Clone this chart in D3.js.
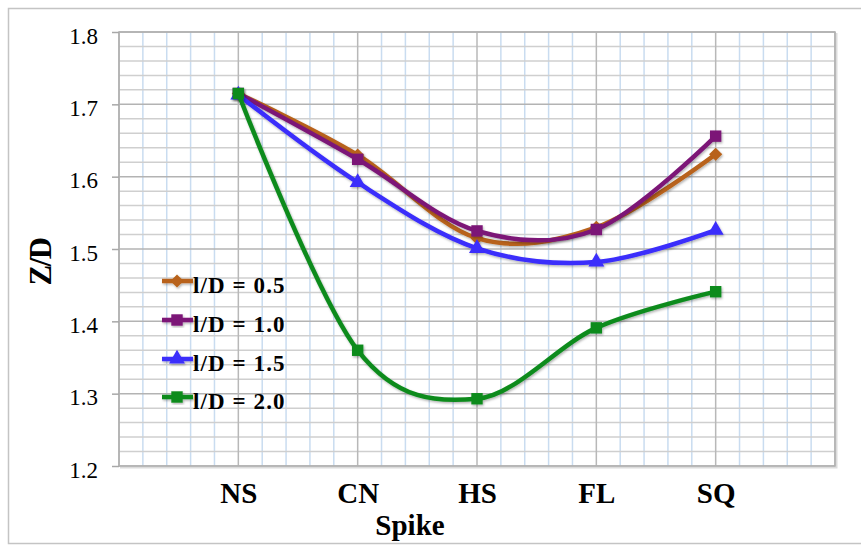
<!DOCTYPE html>
<html>
<head>
<meta charset="utf-8">
<script src="https://cdn.jsdelivr.net/npm/d3@7"></script>
<style>
  html, body { margin: 0; padding: 0; background: #fff; }
  svg { display: block; }
  text { font-family: "Liberation Serif", "Times New Roman", serif; fill: #000; }
</style>
</head>
<body>
<svg id="chart" width="861" height="545"></svg>
<script>
// Spike shapes and the Z/D response for each l/D ratio
const categories = ["NS", "CN", "HS", "FL", "SQ"];
const seriesNames = ["l/D = 0.5", "l/D = 1.0", "l/D = 1.5", "l/D = 2.0"];
const ld05 = [1.715, 1.630, 1.515, 1.530, 1.631];
const ld10 = [1.715, 1.624, 1.525, 1.527, 1.656];
const ld15 = [1.713, 1.592, 1.501, 1.482, 1.526];
const ld20 = [1.715, 1.360, 1.293, 1.391, 1.441];
const yTicks = [1.2, 1.3, 1.4, 1.5, 1.6, 1.7, 1.8];

const seriesValues = [ld05, ld10, ld15, ld20];
const colors = ["#b8621a", "#7c1677", "#3b2dfb", "#0b8b1d"];
const symbols = [d3.symbolDiamond2, d3.symbolSquare, d3.symbolTriangle, d3.symbolSquare];
const symbolSizes = [110, 130, 110, 130];

const svg = d3.select("#chart");

const defs = svg.append("defs");
const sh = defs.append("filter").attr("id", "shadow")
  .attr("x", "-20%").attr("y", "-20%").attr("width", "140%").attr("height", "140%");
sh.append("feDropShadow").attr("dx", 1).attr("dy", 1.5).attr("stdDeviation", 1)
  .attr("flood-color", "#000").attr("flood-opacity", 0.3);

// outer frame
svg.append("rect")
  .attr("x", 8.5).attr("y", 8.5).attr("width", 870).attr("height", 535)
  .attr("fill", "none").attr("stroke", "#c4c4c4").attr("stroke-width", 1.5);

const plotL = 119, plotR = 835, plotT = 32, plotB = 466;
const x = d3.scaleLinear().domain([0, categories.length + 1]).range([plotL, plotR]);
const y = d3.scaleLinear().domain([1.2, 1.8]).range([plotB, plotT]);

const grid = svg.append("g");

// minor vertical lines (light blue)
const minorX = d3.range(0, categories.length + 1 + 1e-9, 0.2)
  .filter(v => Math.abs(v - Math.round(v)) > 1e-6);
grid.selectAll(".vminor").data(minorX).join("line")
  .attr("x1", d => x(d)).attr("x2", d => x(d))
  .attr("y1", plotT).attr("y2", plotB)
  .attr("stroke", "#c9dcf0").attr("stroke-width", 1.5);

// minor horizontal lines
const minorY = d3.range(1.2, 1.8 + 1e-9, 0.02)
  .filter(v => Math.abs(v * 10 - Math.round(v * 10)) > 1e-6);
grid.selectAll(".hminor").data(minorY).join("line")
  .attr("x1", plotL).attr("x2", plotR)
  .attr("y1", d => y(d)).attr("y2", d => y(d))
  .attr("stroke", "#cfcfcf").attr("stroke-width", 1.5);

// major horizontal lines
grid.selectAll(".hmajor").data(yTicks).join("line")
  .attr("x1", plotL).attr("x2", plotR)
  .attr("y1", d => y(d)).attr("y2", d => y(d))
  .attr("stroke", "#b3b3b3").attr("stroke-width", 1.5);

// major vertical lines at each category and at the ends
const majorX = d3.range(0, categories.length + 2);
grid.selectAll(".vmajor").data(majorX).join("line")
  .attr("x1", d => x(d)).attr("x2", d => x(d))
  .attr("y1", plotT).attr("y2", plotB)
  .attr("stroke", "#b8b8b8").attr("stroke-width", 1.5);

// plot border with a soft right/bottom edge
svg.append("path")
  .attr("d", `M${plotR + 1.5},${plotT + 1}V${plotB + 1.5}H${plotL + 1}`)
  .attr("fill", "none").attr("stroke", "#dcdcdc").attr("stroke-width", 2);
svg.append("rect")
  .attr("x", plotL).attr("y", plotT).attr("width", plotR - plotL).attr("height", plotB - plotT)
  .attr("fill", "none").attr("stroke", "#b0b0b0").attr("stroke-width", 1.5);

// y axis ticks and labels
const yAxis = d3.axisLeft(y).tickValues(yTicks).tickFormat(d3.format(".1f")).tickSize(7).tickPadding(14);
const gy = svg.append("g").attr("transform", `translate(${plotL},0)`).call(yAxis);
gy.select(".domain").remove();
gy.selectAll(".tick line").attr("stroke", "#a8a8a8").attr("stroke-width", 1.5);
gy.selectAll(".tick text")
  .attr("font-family", "Liberation Serif, serif")
  .attr("font-size", 23).attr("fill", "#000").attr("dy", "0.48em");

// x category labels
const xAxis = d3.axisBottom(x).tickValues(d3.range(1, categories.length + 1))
  .tickFormat(d => categories[d - 1]).tickSize(0).tickPadding(0);
const gx = svg.append("g").attr("transform", `translate(0,${plotB})`).call(xAxis);
gx.select(".domain").remove();
gx.selectAll(".tick text")
  .attr("font-family", "Liberation Serif, serif")
  .attr("font-size", 29).attr("font-weight", "bold").attr("fill", "#000")
  .attr("dy", null).attr("y", 37);

// axis titles
svg.append("text")
  .attr("x", 410).attr("y", 535).attr("text-anchor", "middle")
  .attr("font-size", 29).attr("font-weight", "bold").text("Spike");
svg.append("text")
  .attr("transform", "translate(51,262) rotate(-90)").attr("text-anchor", "middle")
  .attr("font-size", 31).attr("font-weight", "bold").attr("letter-spacing", -1.5).text("Z/D");

// series curves and markers
const line = d3.line()
  .x((d, i) => x(i + 1)).y(d => y(d))
  .curve(d3.curveCardinal.tension(0));

const marks = svg.append("g");
seriesValues.forEach((vals, s) => {
  const g = marks.append("g").attr("filter", "url(#shadow)");
  g.append("path").datum(vals)
    .attr("d", line).attr("fill", "none")
    .attr("stroke", colors[s]).attr("stroke-width", 4.5)
    .attr("stroke-linejoin", "round").attr("stroke-linecap", "round");
  g.selectAll("path.pt").data(vals).join("path").attr("class", "pt")
    .attr("transform", (d, i) => `translate(${x(i + 1)},${y(d)})`)
    .attr("d", d3.symbol().type(symbols[s]).size(symbolSizes[s]))
    .attr("fill", colors[s]);
});

// legend
const legend = svg.append("g");
const legendY = [281, 320, 359, 397];
seriesNames.forEach((name, s) => {
  const g = legend.append("g").attr("transform", `translate(0,${legendY[s]})`).attr("filter", "url(#shadow)");
  g.append("line").attr("x1", 162).attr("x2", 193).attr("y1", 0).attr("y2", 0)
    .attr("stroke", colors[s]).attr("stroke-width", 4.5);
  g.append("path").attr("transform", "translate(177,0)")
    .attr("d", d3.symbol().type(symbols[s]).size(symbolSizes[s]))
    .attr("fill", colors[s]);
  legend.append("text").attr("x", 193).attr("y", legendY[s] + 12)
    .attr("font-size", 23).attr("font-weight", "bold").attr("letter-spacing", 1.1)
    .text(name);
});
</script>
</body>
</html>
